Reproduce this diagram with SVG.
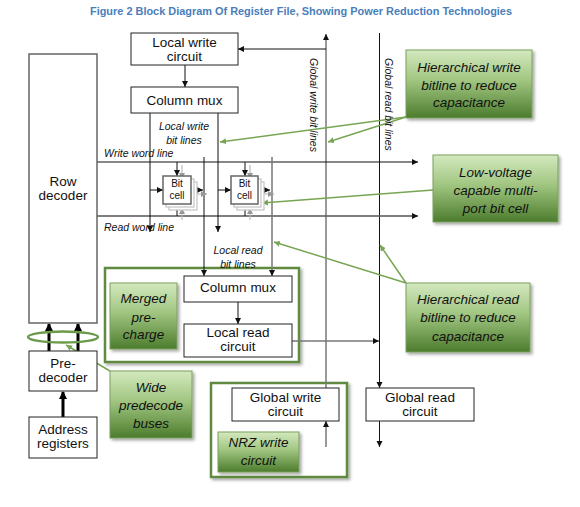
<svg xmlns="http://www.w3.org/2000/svg" width="580" height="507" viewBox="0 0 580 507">
<defs>
<style>
.box{fill:#fff;stroke:#222;stroke-width:1}
.t{font-family:"Liberation Sans",Arial,sans-serif;font-size:13.5px;fill:#111;text-anchor:middle}
.bt{font-family:"Liberation Sans",Arial,sans-serif;font-size:10px;fill:#111;text-anchor:middle}
.lab{font-family:"Liberation Sans",Arial,sans-serif;font-size:10.5px;font-style:italic;fill:#111}
.ct{font-family:"Liberation Sans",Arial,sans-serif;font-size:13.5px;font-style:italic;fill:#111;text-anchor:middle}
.green{fill:url(#gg);stroke:#7a9f5c;stroke-width:1;filter:url(#sh)}
.frame{fill:#fff;stroke:#5f8a3f;stroke-width:2.5;filter:url(#sh)}
.w{stroke:#111;stroke-width:1;fill:none}
.g{stroke:#777;stroke-width:1.5;fill:none}
.gl{stroke:#77a653;stroke-width:1.5;fill:none}
.thick{stroke:#000;stroke-width:3;fill:none}
.cell{fill:#fff;stroke:#666;stroke-width:1.5}
.cellsh{fill:#fff;stroke:#c4c4c4;stroke-width:1.2}
</style>
<linearGradient id="gg" x1="0" y1="0" x2="0" y2="1">
<stop offset="0" stop-color="#d4e9bf"/>
<stop offset="0.45" stop-color="#a0c580"/>
<stop offset="1" stop-color="#4c7c2d"/>
</linearGradient>
<filter id="sh" x="-10%" y="-10%" width="130%" height="130%">
<feDropShadow dx="2" dy="2" stdDeviation="1.5" flood-color="#000" flood-opacity="0.35"/>
</filter>
<marker id="ab" markerUnits="userSpaceOnUse" markerWidth="7" markerHeight="7" refX="6" refY="3" orient="auto"><path d="M0,0 L6,3 L0,6 z" fill="#111"/></marker>
<marker id="ag" markerUnits="userSpaceOnUse" markerWidth="7" markerHeight="7" refX="6" refY="3" orient="auto"><path d="M0,0 L6,3 L0,6 z" fill="#999"/></marker>
<marker id="agr" markerUnits="userSpaceOnUse" markerWidth="8" markerHeight="8" refX="6" refY="3" orient="auto"><path d="M0,0 L6,3 L0,6 z" fill="#77a653"/></marker>
<marker id="at" markerUnits="userSpaceOnUse" markerWidth="10" markerHeight="10" refX="7" refY="4" orient="auto"><path d="M0,0 L8,4 L0,8 z" fill="#000"/></marker>
</defs>
<rect width="580" height="507" fill="#fff"/>

<text x="301" y="15" font-family="'Liberation Sans',Arial,sans-serif" font-size="10" font-weight="bold" fill="#4a7ebb" text-anchor="middle" textLength="422" lengthAdjust="spacingAndGlyphs">Figure 2 Block Diagram Of Register File, Showing Power Reduction Technologies</text>

<!-- frames -->
<g id="merged-frame"><rect class="frame" x="105" y="268" width="194" height="94"/></g>
<g id="global-write-frame"><rect class="frame" x="211" y="383" width="136" height="94"/></g>

<!-- connectors -->
<g id="connectors">
<line class="w" x1="185" y1="65" x2="185" y2="87" marker-end="url(#ab)"/>
<line class="g" x1="326" y1="388" x2="326" y2="34" marker-end="url(#ab)"/>
<line class="w" x1="326" y1="49" x2="238" y2="49" marker-end="url(#ab)"/>
<line class="w" x1="379.5" y1="33" x2="379.5" y2="388" marker-end="url(#ab)"/>
<line class="w" x1="97" y1="162" x2="418" y2="162" marker-end="url(#ab)"/>
<line x1="97" y1="216" x2="418" y2="216" stroke="#555" stroke-width="1.5" marker-end="url(#ab)"/>
<line class="w" x1="150" y1="113" x2="150" y2="232" marker-end="url(#ab)"/>
<line class="w" x1="218" y1="113" x2="218" y2="232" marker-end="url(#ab)"/>
<line class="w" x1="204" y1="157" x2="204" y2="276" marker-end="url(#ab)"/>
<line class="g" x1="272" y1="157" x2="272" y2="276" marker-end="url(#ab)"/>
<line class="w" x1="238" y1="302" x2="238" y2="324" marker-end="url(#ab)"/>
<line class="g" x1="292" y1="341" x2="379" y2="341" marker-end="url(#ab)"/>
<line class="g" x1="326" y1="447" x2="326" y2="421" marker-end="url(#ab)"/>
<line class="w" x1="379.5" y1="421" x2="379.5" y2="447" marker-end="url(#ab)"/>
<line class="thick" x1="49" y1="351" x2="49" y2="324" marker-end="url(#at)"/>
<line class="thick" x1="78" y1="351" x2="78" y2="324" marker-end="url(#at)"/>
<line class="thick" x1="63" y1="417" x2="63" y2="392" marker-end="url(#at)"/>
<!-- bit cell shadow arrows -->
<line x1="182" y1="165" x2="182" y2="179" stroke="#bbb" stroke-width="1.2" marker-end="url(#ag)"/>
<line x1="194" y1="194" x2="207" y2="194" stroke="#bbb" stroke-width="1.2" marker-end="url(#ag)"/>
<line x1="182" y1="220" x2="182" y2="208" stroke="#bbb" stroke-width="1.2" marker-end="url(#ag)"/>
<line x1="250" y1="165" x2="250" y2="179" stroke="#bbb" stroke-width="1.2" marker-end="url(#ag)"/>
<line x1="261" y1="194" x2="274" y2="194" stroke="#bbb" stroke-width="1.2" marker-end="url(#ag)"/>
<line x1="250" y1="220" x2="250" y2="208" stroke="#bbb" stroke-width="1.2" marker-end="url(#ag)"/>
<!-- bit cell arrows -->
<line class="w" x1="177" y1="162" x2="177" y2="176" marker-end="url(#ab)"/>
<line class="w" x1="150" y1="190" x2="163" y2="190" marker-end="url(#ab)"/>
<line class="w" x1="191" y1="190" x2="203" y2="190" marker-end="url(#ab)"/>
<line class="w" x1="177" y1="216" x2="177" y2="204" marker-end="url(#ab)"/>
<line class="w" x1="245" y1="162" x2="245" y2="176" marker-end="url(#ab)"/>
<line class="w" x1="218" y1="190" x2="231" y2="190" marker-end="url(#ab)"/>
<line class="w" x1="258" y1="190" x2="270" y2="190" marker-end="url(#ab)"/>
<line class="w" x1="245" y1="216" x2="245" y2="204" marker-end="url(#ab)"/>
<!-- green callout lines -->
<line class="gl" x1="406" y1="117" x2="220" y2="142" marker-end="url(#agr)"/>
<line class="gl" x1="406" y1="117" x2="328" y2="142" marker-end="url(#agr)"/>
<line class="gl" x1="433" y1="190" x2="262" y2="203" marker-end="url(#agr)"/>
<line class="gl" x1="406" y1="283" x2="274" y2="242" marker-end="url(#agr)"/>
<line class="gl" x1="406" y1="283" x2="380" y2="245" marker-end="url(#agr)"/>
<line class="gl" x1="110" y1="371" x2="66" y2="345" marker-end="url(#agr)"/>
</g>

<!-- labels -->
<text class="lab" x="184" y="130" text-anchor="middle">Local write</text>
<text class="lab" x="184" y="144" text-anchor="middle">bit lines</text>
<text class="lab" x="104" y="157">Write word line</text>
<text class="lab" x="104" y="231">Read word line</text>
<text class="lab" x="238" y="254" text-anchor="middle">Local read</text>
<text class="lab" x="238" y="268" text-anchor="middle">bit lines</text>
<text class="lab" transform="translate(310,58) rotate(90)">Global write bit lines</text>
<text class="lab" transform="translate(385,58) rotate(90)">Global read bit lines</text>

<!-- nodes -->
<g id="row-decoder"><rect x="29" y="54" width="68" height="269" fill="#fff" stroke="#666" stroke-width="1.5"/><text class="t" x="63" y="186">Row</text><text class="t" x="63" y="200">decoder</text></g>
<g id="local-write-circuit"><rect class="box" x="131" y="33" width="107" height="32"/><text class="t" x="184.5" y="47">Local write</text><text class="t" x="184.5" y="61">circuit</text></g>
<g id="column-mux-top"><rect class="box" x="131" y="87" width="107" height="26"/><text class="t" x="184.5" y="104.5">Column mux</text></g>
<g id="bit-cell-1"><rect class="cellsh" x="169" y="182" width="28" height="28"/><rect class="cellsh" x="166" y="179" width="28" height="28"/><rect class="cell" x="163" y="176" width="28" height="28"/><text class="bt" x="177" y="187">Bit</text><text class="bt" x="177" y="199">cell</text></g>
<g id="bit-cell-2"><rect class="cellsh" x="237" y="182" width="27" height="28"/><rect class="cellsh" x="234" y="179" width="27" height="28"/><rect class="cell" x="231" y="176" width="27" height="28"/><text class="bt" x="244.5" y="187">Bit</text><text class="bt" x="244.5" y="199">cell</text></g>
<g id="column-mux-bottom"><rect class="box" x="184" y="276" width="108" height="26"/><text class="t" x="238" y="292">Column mux</text></g>
<g id="local-read-circuit"><rect class="box" x="184" y="324" width="108" height="33"/><text class="t" x="238" y="337">Local read</text><text class="t" x="238" y="351">circuit</text></g>
<g id="bus-ellipse"><ellipse cx="63" cy="337" rx="35" ry="5.5" fill="none" stroke="#6a9a4a" stroke-width="2.5"/></g>
<g id="pre-decoder"><rect class="box" x="29" y="351" width="68" height="40"/><text class="t" x="63" y="368">Pre-</text><text class="t" x="63" y="382">decoder</text></g>
<g id="address-registers"><rect class="box" x="29" y="417" width="68" height="41"/><text class="t" x="63" y="434">Address</text><text class="t" x="63" y="448">registers</text></g>
<g id="global-write-circuit"><rect class="box" x="232" y="388" width="107" height="33"/><text class="t" x="285.5" y="401.5">Global write</text><text class="t" x="285.5" y="415.5">circuit</text></g>
<g id="global-read-circuit"><rect class="box" x="366" y="388" width="108" height="33"/><text class="t" x="420" y="401.5">Global read</text><text class="t" x="420" y="415.5">circuit</text></g>

<!-- green callouts -->
<g id="callout-hier-write"><rect class="green" x="406" y="50" width="126" height="68"/><text class="ct" x="469" y="72">Hierarchical write</text><text class="ct" x="469" y="90">bitline to reduce</text><text class="ct" x="469" y="107">capacitance</text></g>
<g id="callout-low-voltage"><rect class="green" x="433" y="155" width="125" height="67"/><text class="ct" x="495.5" y="177">Low-voltage</text><text class="ct" x="495.5" y="195">capable multi-</text><text class="ct" x="495.5" y="213">port bit cell</text></g>
<g id="callout-hier-read"><rect class="green" x="406" y="283" width="124" height="69"/><text class="ct" x="468" y="304">Hierarchical read</text><text class="ct" x="468" y="322">bitline to reduce</text><text class="ct" x="468" y="341">capacitance</text></g>
<g id="callout-merged"><rect class="green" x="110" y="283" width="67" height="66"/><text class="ct" x="143.5" y="303">Merged</text><text class="ct" x="143.5" y="322">pre-</text><text class="ct" x="143.5" y="339">charge</text></g>
<g id="callout-wide"><rect class="green" x="110" y="371" width="82" height="67"/><text class="ct" x="151" y="392">Wide</text><text class="ct" x="151" y="410">predecode</text><text class="ct" x="151" y="428">buses</text></g>
<g id="callout-nrz"><rect class="green" x="218" y="432" width="81" height="40"/><text class="ct" x="258.5" y="447">NRZ write</text><text class="ct" x="258.5" y="465">circuit</text></g>
</svg>
